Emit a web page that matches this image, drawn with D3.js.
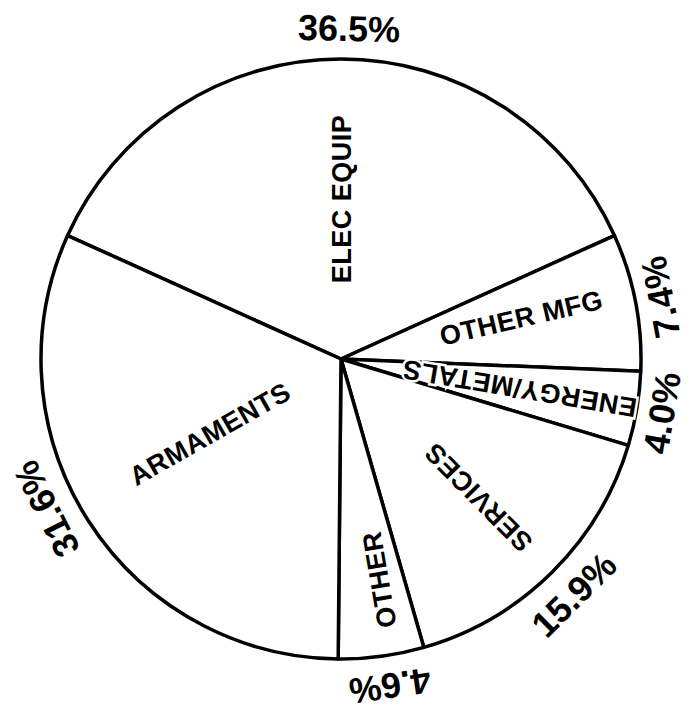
<!DOCTYPE html>
<html>
<head>
<meta charset="utf-8">
<script src="https://cdn.jsdelivr.net/npm/d3@7"></script>
<style>
    body { margin: 0; background: #fff; }
    svg { display: block; }
    text { font-family: "Liberation Sans", Arial, Helvetica, sans-serif; font-weight: bold; fill: #000; }
</style>
</head>
<body>
<svg id="pie-chart" width="690" height="714"></svg>
<script>
// slices, clockwise from the top
const categories = ["ELEC EQUIP", "OTHER MFG", "ENERGY/METALS", "SERVICES", "OTHER", "ARMAMENTS"];
const shares = [36.5, 7.4, 4.0, 15.9, 4.6, 31.6];
const shareLabels = ["36.5%", "7.4%", "4.0%", "15.9%", "4.6%", "31.6%"];

const width = 690;
const height = 714;
const centerX = 341;
const centerY = 359;
const radius = 300;

// label placement tweaks (degrees / pixels)
const innerLabelRadius = [160, 185, 181, 195, 224, 151];
const innerAngleShift = [0, -2, 0, 0, -2, 3];
const innerReadsInward = [false, false, true, true, true, true];
const outerLabelRadius = [331, 325, 325, 331, 331, 331];
const outerAngleShift = [1.4, 0, 0, 0, -0.8, 5.6];
const outerFlipped = [false, true, true, true, false, false];

const svg = d3.select("#pie-chart");
const toRad = Math.PI / 180;

// first slice is centred on 12 o'clock
const start = -Math.PI * shares[0] / 100;
const pie = d3.pie()
    .sort(null)
    .value(function (d) { return d; })
    .startAngle(start)
    .endAngle(start + 2 * Math.PI);
const arcs = pie(shares);

const arc = d3.arc()
    .innerRadius(0)
    .outerRadius(radius);

const g = svg.append("g")
    .attr("transform", `translate(${centerX}, ${centerY})`);

// slices
g.selectAll("path")
    .data(arcs)
    .join("path")
    .attr("d", arc)
    .attr("fill", "#fff")
    .attr("stroke", "#000")
    .attr("stroke-width", 3.5)
    .attr("stroke-linejoin", "round");

function midDeg(d) {
    return (d.startAngle + d.endAngle) / 2 / toRad;
}

// category names inside the slices, written along the radius
g.selectAll(".inner-label")
    .data(arcs)
    .join("text")
    .attr("class", "inner-label")
    .attr("transform", function (d, i) {
        const a = midDeg(d) + innerAngleShift[i];
        const r = innerLabelRadius[i];
        const x = r * Math.sin(a * toRad);
        const y = -r * Math.cos(a * toRad);
        const rot = innerReadsInward[i] ? a + 90 : a - 90;
        return `translate(${x}, ${y}) rotate(${rot})`;
    })
    .attr("text-anchor", "middle")
    .attr("dy", "0.36em")
    .attr("font-size", "27px")
    .attr("letter-spacing", "0.5px")
    .attr("stroke", "#fff")
    .attr("stroke-width", 5)
    .attr("paint-order", "stroke")
    .text(function (d, i) { return categories[i]; });

// percentages around the rim
g.selectAll(".outer-label")
    .data(arcs)
    .join("text")
    .attr("class", "outer-label")
    .attr("transform", function (d, i) {
        const a = midDeg(d) + outerAngleShift[i];
        const r = outerLabelRadius[i];
        const x = r * Math.sin(a * toRad);
        const y = -r * Math.cos(a * toRad);
        const rot = outerFlipped[i] ? a - 180 : a;
        return `translate(${x}, ${y}) rotate(${rot})`;
    })
    .attr("text-anchor", "middle")
    .attr("dy", "0.36em")
    .attr("font-size", "36px")
    .text(function (d, i) { return shareLabels[i]; });
</script>
</body>
</html>
